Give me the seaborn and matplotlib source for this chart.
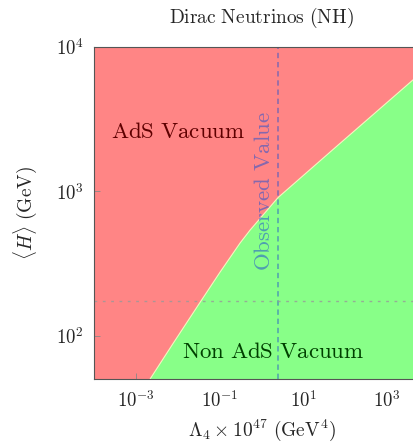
import matplotlib
matplotlib.use("Agg")
import matplotlib.pyplot as plt
import seaborn as sns
import pandas as pd

# boundary between the AdS and non-AdS vacua
lam4 = [2.0e-3, 2.15e-3, 7.6e-3, 3.38e-2, 0.1016, 0.306, 0.531, 1.09, 2.48, 75.5, 4207, 1e4]
h_vev = [47.9, 50.1, 88.1, 170, 275, 437, 537, 684, 902, 2138, 5875, 7295]

observed_lambda = 2.5
h_line = 174

x_ticks = [1e-3, 1e-1, 1e1, 1e3]
x_labels = [r'$10^{-3}$', r'$10^{-1}$', r'$10^{1}$', r'$10^{3}$']
y_ticks = [1e2, 1e3, 1e4]
y_labels = [r'$10^{2}$', r'$10^{3}$', r'$10^{4}$']

red = '#ff8585'
green = '#88ff88'
blue = '#2050d0'

sns.set_style('ticks')
plt.rcParams['mathtext.fontset'] = 'cm'
plt.rcParams['font.family'] = ['DejaVu Serif']

df = pd.DataFrame({'lam4': lam4, 'h': h_vev})

fig = plt.figure(figsize=(4.13, 4.43), dpi=100)
ax = fig.add_axes([0.2283, 0.1438, 0.8097, 0.7512])
ax.set_facecolor(red)

ax.fill_between(df['lam4'], 1, df['h'], color=green, lw=0)
sns.lineplot(data=df, x='lam4', y='h', ax=ax, color='#f6f6c0', lw=0.8)

ax.axvline(observed_lambda, color=blue, alpha=0.55, lw=1.1, dashes=(3.5, 2.5))
ax.axhline(h_line, color='#999999', alpha=0.8, lw=1.0, dashes=(2, 4))

ax.set_xscale('log')
ax.set_yscale('log')
ax.set_xlim(1e-4, 1e4)
ax.set_ylim(50, 1e4)

ax.text(1e-2, 2580, r'$\mathrm{AdS\ Vacuum}$', color='#5e0000', fontsize=16.5,
        ha='center', va='center')
ax.text(1.88, 77, r'$\mathrm{Non\ AdS\ Vacuum}$', color='#004000', fontsize=16.5,
        ha='center', va='center')
ax.text(1.15, 1000, r'$\mathrm{Observed\ Value}$', color=blue, alpha=0.55, fontsize=16.5,
        ha='center', va='center', rotation=90)

ax.set_xticks(x_ticks, x_labels)
ax.set_yticks(y_ticks, y_labels)
ax.minorticks_off()
ax.tick_params(direction='in', length=4, width=0.6, color='#888888',
               labelsize=13.5, pad=7.5, top=False, right=False)

ax.set_title(r'$\mathrm{Dirac\ Neutrinos\ (NH)}$', fontsize=14, pad=17)
ax.set_xlabel(r'$\Lambda_4 \times 10^{47}\ \mathrm{(GeV^4)}$', fontsize=14)
ax.set_ylabel(r'$\langle H\rangle\ \mathrm{(GeV)}$', fontsize=14)
ax.xaxis.set_label_coords(0.5, -0.114)
ax.yaxis.set_label_coords(-0.165, 0.5)

for s in ax.spines.values():
    s.set_color('#555555')
    s.set_linewidth(0.8)

fig.savefig('out.png', dpi=100)
